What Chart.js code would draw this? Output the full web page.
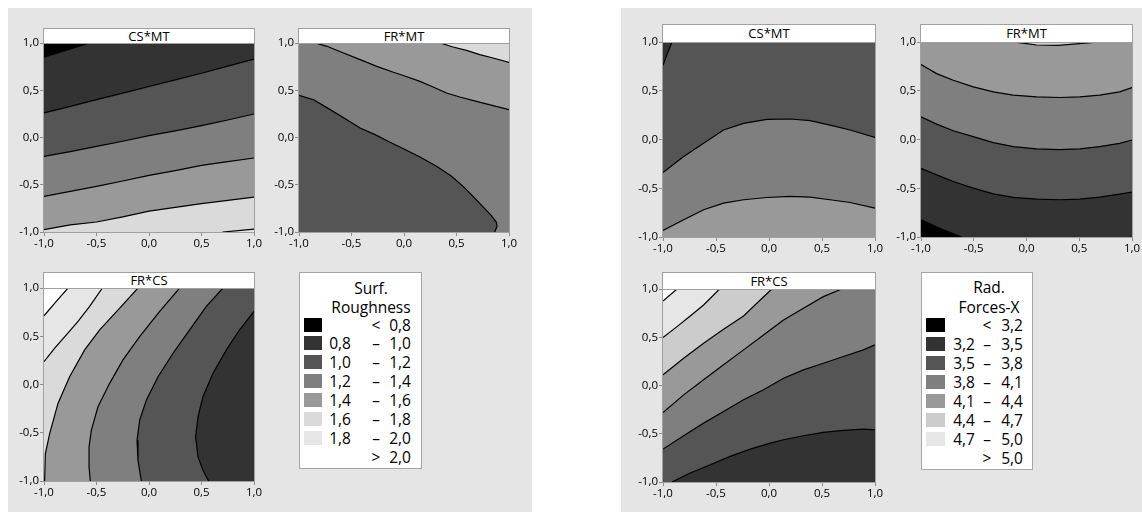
<!DOCTYPE html>
<html><head><meta charset="utf-8">
<script src="https://cdn.jsdelivr.net/npm/chart.js@4.4.1/dist/chart.umd.min.js"></script>
<style>
html,body{margin:0;padding:0;background:#fff}
body{position:relative;width:1142px;height:512px;overflow:hidden;font-family:'Open Sans','Noto Sans',sans-serif;color:#000}
.panel{position:absolute;background:#e5e5e5}
canvas{position:absolute}
.ttl{position:absolute;box-sizing:border-box;background:#fff;border:1px solid #a0a0a0;font-size:13px;text-align:center;color:#000;overflow:hidden}
.leg{position:absolute;box-sizing:border-box;background:#fff;border:1px solid #a6a6a6;font-size:15.5px;color:#000}
.leg span{position:absolute;white-space:nowrap;line-height:18px;height:18px}
.leg .sw{position:absolute}
</style></head><body>
<div class="panel" style="left:8px;top:8px;width:524px;height:504px"></div>
<div class="panel" style="left:621px;top:8px;width:521px;height:504px"></div>
<script>
// ---------- axis ticks ----------
const tickValues = [-1, -0.5, 0, 0.5, 1];
const tickLabels = ['-1,0', '-0,5', '0,0', '0,5', '1,0'];

// ---------- legend levels and colours ----------
const roughTitle = ['Surf.', 'Roughness'];
const roughLevels = ['0,8', '1,0', '1,2', '1,4', '1,6', '1,8', '2,0'];
const roughColors = ['#000000', '#333333', '#555555', '#7f7f7f', '#999999', '#dadada', '#e6e6e6', '#ffffff'];
const forceTitle = ['Rad.', 'Forces-X'];
const forceLevels = ['3,2', '3,5', '3,8', '4,1', '4,4', '4,7', '5,0'];
const forceColors = ['#000000', '#333333', '#555555', '#7f7f7f', '#999999', '#cccccc', '#e6e6e6', '#ffffff'];

// ---------- contour lines (x, y) ----------
// Surface roughness, CS*MT
const rCSMT_08 = [[-1, 0.85], [-0.8, 0.92], [-0.565, 1]];
const rCSMT_10 = [[-1, 0.26], [-0.75, 0.33], [-0.5, 0.40], [-0.25, 0.47], [0, 0.54], [0.25, 0.61], [0.5, 0.68], [0.75, 0.755], [1, 0.83]];
const rCSMT_12 = [[-1, -0.20], [-0.75, -0.15], [-0.5, -0.094], [-0.25, -0.04], [0, 0.019], [0.25, 0.07], [0.5, 0.125], [0.75, 0.185], [1, 0.249]];
const rCSMT_14 = [[-1, -0.623], [-0.75, -0.57], [-0.5, -0.517], [-0.25, -0.46], [0, -0.401], [0.25, -0.35], [0.5, -0.295], [0.75, -0.255], [1, -0.217]];
const rCSMT_16 = [[-1, -0.975], [-0.75, -0.925], [-0.5, -0.894], [-0.25, -0.84], [0, -0.78], [0.25, -0.74], [0.5, -0.70], [0.75, -0.665], [1, -0.63]];
const rCSMT_18 = [[0.7, -1], [0.85, -0.985], [1, -0.97]];
// Surface roughness, FR*MT
const rFRMT_12 = [[-1, 0.446], [-0.861, 0.40], [-0.703, 0.295], [-0.544, 0.189], [-0.418, 0.101], [-0.275, 0.03], [-0.133, -0.051], [0, -0.122], [0.152, -0.206], [0.31, -0.305], [0.453, -0.411], [0.563, -0.517], [0.658, -0.623], [0.753, -0.735], [0.832, -0.827], [0.88, -0.898], [0.886, -0.94], [0.864, -1]];
const rFRMT_14 = [[-0.845, 1], [-0.734, 0.965], [-0.576, 0.894], [-0.418, 0.824], [-0.259, 0.753], [-0.101, 0.69], [0, 0.654], [0.152, 0.594], [0.278, 0.534], [0.405, 0.471], [0.532, 0.429], [0.69, 0.383], [0.848, 0.337], [1, 0.295]];
const rFRMT_16 = [[0.342, 1], [0.468, 0.958], [0.595, 0.922], [0.722, 0.877], [0.848, 0.841], [1, 0.795]];
// Surface roughness, FR*CS
const rFRCS_10 = [[1, 0.757], [0.863, 0.567], [0.737, 0.359], [0.61, 0.116], [0.514, -0.127], [0.467, -0.334], [0.444, -0.542], [0.467, -0.75], [0.514, -0.889], [0.568, -1]];
const rFRCS_12 = [[0.705, 1], [0.546, 0.809], [0.387, 0.567], [0.229, 0.324], [0.086, 0.081], [-0.025, -0.161], [-0.089, -0.369], [-0.114, -0.577], [-0.105, -0.785], [-0.073, -1]];
const rFRCS_14 = [[0.292, 1], [0.102, 0.757], [-0.089, 0.497], [-0.248, 0.255], [-0.375, 0.012], [-0.486, -0.231], [-0.549, -0.473], [-0.571, -0.646], [-0.571, -0.854], [-0.559, -1]];
const rFRCS_16 = [[-0.105, 1], [-0.279, 0.792], [-0.47, 0.567], [-0.613, 0.359], [-0.756, 0.081], [-0.867, -0.196], [-0.946, -0.508], [-0.987, -0.716], [-0.994, -1]];
const rFRCS_18 = [[-1, 0.237], [-0.898, 0.376], [-0.787, 0.515], [-0.676, 0.653], [-0.565, 0.809], [-0.444, 1]];
const rFRCS_20 = [[-1, 0.712], [-0.883, 0.861], [-0.771, 1]];
// Radial forces X, CS*MT
const fCSMT_35 = [[-1, 0.761], [-0.96, 0.88], [-0.915, 1]];
const fCSMT_38 = [[-1, -0.339], [-0.805, -0.175], [-0.617, -0.039], [-0.429, 0.097], [-0.24, 0.165], [-0.02, 0.206], [0.199, 0.21], [0.388, 0.193], [0.576, 0.148], [0.765, 0.097], [1, 0.022]];
const fCSMT_41 = [[-1, -0.932], [-0.805, -0.823], [-0.617, -0.721], [-0.429, -0.652], [-0.24, -0.618], [-0.02, -0.595], [0.199, -0.584], [0.388, -0.591], [0.576, -0.618], [0.765, -0.646], [1, -0.704]];
// Radial forces X, FR*MT
const fFRMT_32 = [[-1, -0.823], [-0.8, -0.92], [-0.615, -1]];
const fFRMT_35 = [[-1, -0.295], [-0.852, -0.363], [-0.694, -0.431], [-0.505, -0.499], [-0.315, -0.557], [-0.126, -0.594], [0.095, -0.612], [0.315, -0.618], [0.505, -0.612], [0.694, -0.591], [0.883, -0.56], [1, -0.54]];
const fFRMT_38 = [[-1, 0.233], [-0.852, 0.158], [-0.694, 0.09], [-0.505, 0.029], [-0.315, -0.032], [-0.126, -0.073], [0.095, -0.097], [0.315, -0.104], [0.505, -0.097], [0.694, -0.073], [0.883, -0.039], [1, -0.005]];
const fFRMT_41 = [[-1, 0.768], [-0.852, 0.676], [-0.694, 0.608], [-0.505, 0.54], [-0.315, 0.489], [-0.126, 0.455], [0.095, 0.438], [0.315, 0.431], [0.505, 0.438], [0.694, 0.455], [0.883, 0.489], [1, 0.533]];
const fFRMT_44 = [[-0.126, 1], [0, 0.983], [0.095, 0.969], [0.3, 0.966], [0.5, 0.983], [0.694, 1]];
// Radial forces X, FR*CS
const fFRCS_35 = [[-0.915, -1], [-0.743, -0.907], [-0.554, -0.821], [-0.366, -0.734], [-0.177, -0.659], [0.011, -0.597], [0.137, -0.562], [0.325, -0.521], [0.513, -0.486], [0.702, -0.466], [0.89, -0.452], [1, -0.459]];
const fFRCS_38 = [[-1, -0.659], [-0.805, -0.521], [-0.617, -0.39], [-0.429, -0.269], [-0.24, -0.148], [-0.052, -0.045], [0.137, 0.076], [0.325, 0.162], [0.513, 0.231], [0.702, 0.3], [0.89, 0.369], [1, 0.421]];
const fFRCS_41 = [[-1, -0.279], [-0.805, -0.097], [-0.617, 0.059], [-0.429, 0.214], [-0.24, 0.369], [-0.052, 0.524], [0.137, 0.679], [0.325, 0.8], [0.513, 0.921], [0.686, 1]];
const fFRCS_44 = [[-1, 0.11], [-0.805, 0.283], [-0.617, 0.438], [-0.429, 0.583], [-0.24, 0.721], [-0.115, 0.852], [0.027, 1]];
const fFRCS_47 = [[-1, 0.497], [-0.868, 0.61], [-0.743, 0.721], [-0.617, 0.834], [-0.466, 1]];
const fFRCS_50 = [[-1, 0.876], [-0.868, 1]];

// ---------- layout ----------
const TL = [-1, 1], TR = [1, 1], BR = [1, -1], BL = [-1, -1];

const plots = [
  { title: 'CS*MT', L: 44, T: 43, R: 254, B: 232, tTop: 28, colors: roughColors, base: 0,
    regions: [[rCSMT_08, [TR, BR, BL], 1], [rCSMT_10, [BR, BL], 2], [rCSMT_12, [BR, BL], 3], [rCSMT_14, [BR, BL], 4], [rCSMT_16, [BR, BL], 5], [rCSMT_18, [BR], 6]] },
  { title: 'FR*MT', L: 299, T: 43, R: 509, B: 232, tTop: 28, colors: roughColors, base: 2,
    regions: [[rFRMT_12, [BR, TR, TL], 3], [rFRMT_14, [TR], 4], [rFRMT_16, [TR], 5]] },
  { title: 'FR*CS', L: 44, T: 288, R: 254, B: 481, tTop: 272, colors: roughColors, base: 1,
    regions: [[rFRCS_10, [BL, TL, TR], 2], [rFRCS_12, [BL, TL], 3], [rFRCS_14, [BL, TL], 4], [rFRCS_16, [BL, TL], 5], [rFRCS_18, [TL], 6], [rFRCS_20, [TL], 7]] },
  { title: 'CS*MT', L: 663, T: 42, R: 875, B: 237, tTop: 24, colors: forceColors, base: 2,
    regions: [[fCSMT_35, [TL], 1], [fCSMT_38, [BR, BL], 3], [fCSMT_41, [BR, BL], 4]] },
  { title: 'FR*MT', L: 921, T: 42, R: 1132, B: 237, tTop: 24, colors: forceColors, base: 1,
    regions: [[fFRMT_35, [TR, TL], 2], [fFRMT_38, [TR, TL], 3], [fFRMT_41, [TR, TL], 4], [fFRMT_44, [], 5], [fFRMT_32, [BL], 0]] },
  { title: 'FR*CS', L: 663, T: 289, R: 875, B: 482, tTop: 272, colors: forceColors, base: 1,
    regions: [[fFRCS_35, [TR, TL, BL], 2], [fFRCS_38, [TR, TL], 3], [fFRCS_41, [TL], 4], [fFRCS_44, [TL], 5], [fFRCS_47, [TL], 6], [fFRCS_50, [TL], 7]] }
];

const FONT = "'Open Sans', 'Noto Sans', sans-serif";
const toPts = arr => arr.map(([x, y]) => ({ x, y }));

function axis(pos) {
  const a = {
    type: 'linear', position: pos, min: -1, max: 1,
    afterBuildTicks: s => { s.ticks = tickValues.map(v => ({ value: v })); },
    ticks: { callback: v => tickLabels[tickValues.indexOf(v)], font: { family: FONT, size: 11.5 }, color: '#000', padding: 1, maxRotation: 0, autoSkip: false },
    grid: { drawOnChartArea: false, drawTicks: true, tickLength: 4, color: '#8c8c8c' },
    border: { display: true, color: '#a0a0a0' }
  };
  if (pos === 'left') a.afterFit = s => { s.width = 40; };
  else a.afterFit = s => { s.height = 22; };
  return a;
}

const framePlugin = {
  id: 'frame',
  afterDraw(c) {
    const a = c.chartArea, ctx = c.ctx;
    ctx.save();
    ctx.strokeStyle = '#a0a0a0';
    ctx.lineWidth = 1;
    ctx.strokeRect(a.left - 0.5, a.top - 0.5, a.right - a.left + 1, a.bottom - a.top + 1);
    ctx.restore();
  }
};

function makePlot(p) {
  const W = p.R - p.L + 54, H = p.B - p.T + 32;
  const cv = document.createElement('canvas');
  cv.width = W; cv.height = H;
  cv.style.left = (p.L - 40) + 'px'; cv.style.top = (p.T - 10) + 'px';
  cv.style.width = W + 'px'; cv.style.height = H + 'px';
  document.body.appendChild(cv);

  const ds = [];
  const polys = [[[BL, BR, TR, TL], [], p.base]].concat(p.regions);
  polys.forEach((r, i) => ds.push({
    data: toPts(r[0].concat(r[1])), fill: 'shape', backgroundColor: p.colors[r[2]],
    borderWidth: 0, borderColor: 'rgba(0,0,0,0)', pointRadius: 0, tension: 0, order: 100 - i, yAxisID: 'y'
  }));
  p.regions.forEach(r => ds.push({
    data: toPts(r[0]), fill: false, borderColor: '#000', borderWidth: 1.2,
    pointRadius: 0, tension: 0, order: 0, yAxisID: 'y'
  }));

  new Chart(cv, {
    type: 'line',
    data: { datasets: ds },
    options: {
      responsive: false, animation: false, devicePixelRatio: 1,
      layout: { padding: { top: 10, right: 14, left: 0, bottom: 0 } },
      plugins: { legend: { display: false }, tooltip: { enabled: false }, title: { display: false } },
      events: [],
      scales: {
        x: axis('bottom'),
        y: axis('left'),
        mesh: {
          type: 'linear', axis: 'y', position: 'right', min: -1, max: 1, z: 1,
          afterFit: s => { s.width = 0; },
          afterBuildTicks: s => { const t = []; for (let k = 1; k < 14; k++) t.push({ value: -1 + k / 7 }); s.ticks = t; },
          ticks: { display: false },
          grid: { drawTicks: false, color: 'rgba(255,255,255,0.13)', lineWidth: 1 },
          border: { display: false }
        }
      }
    },
    plugins: [framePlugin]
  });

  const t = document.createElement('div');
  t.className = 'ttl';
  t.textContent = p.title;
  const th = p.T - p.tTop + 1;
  Object.assign(t.style, { left: (p.L - 1) + 'px', top: p.tTop + 'px', width: (p.R - p.L + 2) + 'px', height: th + 'px', lineHeight: (th - 2) + 'px' });
  document.body.appendChild(t);
}

plots.forEach(makePlot);

// ---------- legends ----------
function makeLegend(g, titleLines, levels, colors) {
  const box = document.createElement('div');
  box.className = 'leg';
  Object.assign(box.style, { left: g.x + 'px', top: g.y + 'px', width: g.w + 'px', height: g.h + 'px' });
  const span = (txt, left, top, width, align) => {
    const s = document.createElement('span');
    s.textContent = txt;
    Object.assign(s.style, { left: left + 'px', top: top + 'px', width: width + 'px', textAlign: align });
    box.appendChild(s);
  };
  titleLines.forEach((tl, i) => span(tl, g.tcx - 60, g.ty[i] - 9, 120, 'center'));
  for (let i = 0; i < colors.length; i++) {
    const cy = g.r0 + i * g.dr;
    const sw = document.createElement('div');
    sw.className = 'sw';
    Object.assign(sw.style, { left: g.sx + 'px', top: (cy - g.sh / 2) + 'px', width: g.sw + 'px', height: g.sh + 'px', background: colors[i] });
    box.appendChild(sw);
    let lo = '', mid = '–', hi = '';
    if (i === 0) { mid = '<'; hi = levels[0]; }
    else if (i === colors.length - 1) { mid = '>'; hi = levels[levels.length - 1]; }
    else { lo = levels[i - 1]; hi = levels[i]; }
    if (lo) span(lo, g.lo - 40, cy - 9, 40, 'right');
    span(mid, g.mc - 10, cy - 9, 20, 'center');
    span(hi, g.hi - 40, cy - 9, 40, 'right');
  }
  document.body.appendChild(box);
}

makeLegend({ x: 299, y: 272, w: 123, h: 197, tcx: 71, ty: [15, 34], r0: 51.5, dr: 18.9, sx: 4, sw: 18, sh: 14, lo: 51, mc: 76, hi: 111 }, roughTitle, roughLevels, roughColors);
makeLegend({ x: 921, y: 272, w: 112, h: 198, tcx: 67, ty: [14, 34], r0: 52, dr: 19.05, sx: 4, sw: 19, sh: 14, lo: 53, mc: 65, hi: 101 }, forceTitle, forceLevels, forceColors);
</script>
</body></html>
